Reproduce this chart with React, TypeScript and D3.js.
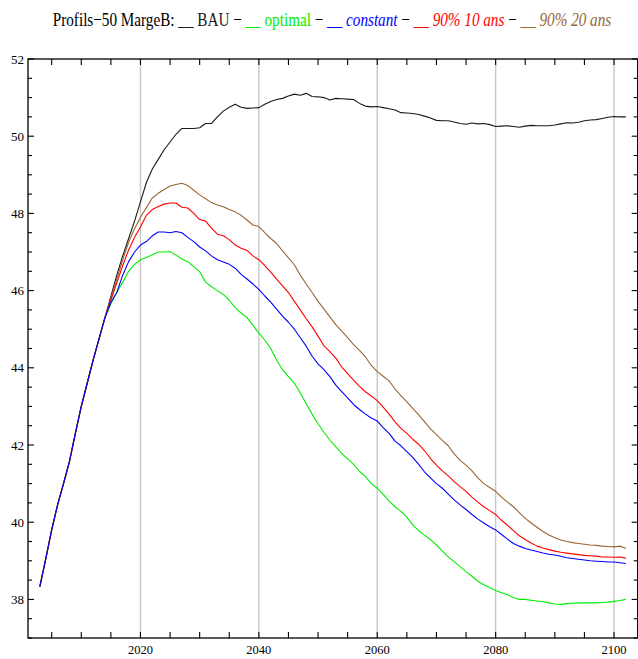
import React from "react";
import * as d3 from "d3";

// ---- Data ----
const commonYears = [2003, 2004, 2005, 2006, 2007, 2008, 2009, 2010, 2011, 2012, 2013, 2014];
const commonValues = [38.33, 39.05, 39.8, 40.45, 41.0, 41.57, 42.3, 43.0, 43.6, 44.2, 44.75, 45.3];

const startYear = 2015; // series below are yearly values 2015..2102

const bau = [
  45.85, 46.4, 46.9, 47.35, 47.8, 48.3, 48.8, 49.15, 49.4, 49.65,
  49.85, 50.05, 50.2, 50.2, 50.2, 50.22, 50.33, 50.33, 50.5, 50.65,
  50.75, 50.83, 50.75, 50.72, 50.73, 50.74, 50.83, 50.9, 50.95, 50.98,
  51.04, 51.09, 51.06, 51.11, 51.03, 51.02, 51.0, 50.94, 50.98, 50.97,
  50.96, 50.95, 50.85, 50.78, 50.76, 50.77, 50.74, 50.71, 50.68, 50.61,
  50.6, 50.59, 50.56, 50.52, 50.47, 50.41, 50.4, 50.4, 50.37, 50.33,
  50.31, 50.34, 50.32, 50.33, 50.3, 50.25, 50.26, 50.27, 50.25, 50.23,
  50.26, 50.28, 50.27, 50.27, 50.27, 50.29, 50.32, 50.35, 50.34, 50.36,
  50.4, 50.42, 50.43, 50.46, 50.49, 50.51, 50.5, 50.5,
];

const optimal = [
  45.65, 45.95, 46.22, 46.5, 46.68, 46.8, 46.86, 46.93, 47.0, 47.0,
  47.01, 46.92, 46.82, 46.75, 46.62, 46.49, 46.22, 46.1, 46.0, 45.9,
  45.75, 45.56, 45.42, 45.3, 45.1, 44.9, 44.72, 44.5, 44.2, 43.95,
  43.77, 43.6, 43.35, 43.07, 42.8, 42.55, 42.33, 42.13, 41.95, 41.78,
  41.64, 41.5, 41.32, 41.18, 41.0, 40.88, 40.72, 40.55, 40.4, 40.28,
  40.13, 39.93, 39.78, 39.66, 39.55, 39.41, 39.25, 39.1, 38.98, 38.85,
  38.72, 38.6, 38.47, 38.38, 38.3, 38.23, 38.17, 38.12, 38.05, 38.0,
  38.0, 37.98, 37.96, 37.94, 37.91, 37.88, 37.87, 37.89, 37.9, 37.91,
  37.91, 37.91, 37.91, 37.92, 37.93, 37.95, 37.97, 38.0,
];

const constant = [
  45.7, 45.95, 46.4, 46.75, 47.0, 47.18, 47.27, 47.42, 47.52, 47.52,
  47.5, 47.53, 47.5, 47.38, 47.27, 47.13, 47.03, 46.9, 46.8, 46.74,
  46.68, 46.58, 46.42, 46.3, 46.17, 46.03, 45.86, 45.7, 45.52, 45.34,
  45.18, 45.0, 44.78, 44.56, 44.3, 44.1, 43.95, 43.77, 43.55, 43.38,
  43.22, 43.05, 42.92, 42.8, 42.7, 42.62, 42.45, 42.3, 42.1, 41.98,
  41.83, 41.68, 41.5, 41.3, 41.15, 41.0, 40.88, 40.73, 40.58, 40.45,
  40.33, 40.2, 40.08, 39.98, 39.88, 39.8, 39.68, 39.56, 39.45, 39.38,
  39.32, 39.28, 39.24, 39.2, 39.17, 39.15, 39.12, 39.08, 39.06, 39.04,
  39.02, 39.0, 38.99, 38.98, 38.97, 38.97, 38.95, 38.93,
];

const p90y10 = [
  45.75, 46.2, 46.65, 47.05, 47.38, 47.65, 47.95, 48.1, 48.18, 48.24,
  48.27, 48.27, 48.16, 48.14, 48.0, 47.84, 47.8, 47.62, 47.46, 47.42,
  47.32, 47.18, 47.1, 47.04, 46.9, 46.8, 46.65, 46.48, 46.3, 46.12,
  45.95, 45.72, 45.5, 45.27, 45.06, 44.82, 44.57, 44.42, 44.25, 44.02,
  43.85, 43.68, 43.52, 43.38, 43.27, 43.15, 42.98, 42.8, 42.6, 42.43,
  42.3, 42.15, 42.02, 41.85, 41.65, 41.48, 41.33, 41.2, 41.05, 40.92,
  40.8, 40.65, 40.52, 40.4, 40.3, 40.2, 40.05, 39.92, 39.78, 39.65,
  39.55, 39.46, 39.38, 39.33, 39.29, 39.25, 39.22, 39.2, 39.18, 39.16,
  39.14, 39.13, 39.12, 39.1, 39.1, 39.09, 39.1, 39.07,
];

const p90y20 = [
  45.8, 46.3, 46.8, 47.25, 47.6, 47.9, 48.15, 48.4, 48.52, 48.62,
  48.71, 48.75, 48.78, 48.72, 48.6, 48.48, 48.38, 48.28, 48.22, 48.17,
  48.1, 48.04, 47.95, 47.83, 47.7, 47.66, 47.5, 47.35, 47.22, 47.03,
  46.85, 46.67, 46.4, 46.17, 45.95, 45.72, 45.52, 45.32, 45.12, 44.95,
  44.78, 44.6, 44.45, 44.28, 44.06, 43.9, 43.78, 43.66, 43.45, 43.28,
  43.12, 42.95, 42.78, 42.6, 42.42, 42.27, 42.12, 41.98, 41.77, 41.6,
  41.48, 41.33, 41.15, 41.0, 40.9, 40.8, 40.65, 40.52, 40.4, 40.25,
  40.1, 39.98, 39.87, 39.76, 39.67, 39.6, 39.54, 39.5, 39.47, 39.45,
  39.43, 39.41, 39.4, 39.38, 39.37, 39.36, 39.38, 39.32,
];

const seriesNames = ["BAU", "optimal", "constant", "90% 10 ans", "90% 20 ans"];
const seriesColors = ["#1a1a1a", "#00ee00", "#0000ff", "#ff0000", "#996633"];
const seriesValues = [bau, optimal, constant, p90y10, p90y20];
const drawOrder = [0, 1, 4, 3, 2];

const xMajorTicks = [2020, 2040, 2060, 2080, 2100];
const yMajorTicks = [38, 40, 42, 44, 46, 48, 50, 52];

const W = 638;
const H = 659;
const FONT = "'Liberation Serif', 'DejaVu Serif', serif";

export default function App() {
  const x = d3.scaleLinear().domain([2001, 2104]).range([28, 637.7]);
  const y = d3.scaleLinear().domain([37, 52]).range([638, 59]);
  const [x0, x1] = x.range();
  const [y0, y1] = [y(37), y(52)];

  const line = d3
    .line<[number, number]>()
    .x((d) => x(d[0]))
    .y((d) => y(d[1]));

  const buildSeries = (vals: number[]): [number, number][] => {
    const pts: [number, number][] = commonYears.map((yr, i) => [yr, commonValues[i]]);
    vals.forEach((v, i) => pts.push([startYear + i, v]));
    return pts;
  };

  const xMinor = d3.range(2005, 2104, 5);
  const yMinor = d3.range(37, 52.01, 0.5);

  return (
    <div style={{ position: "absolute", left: 0, top: 0, background: "#fff" }}>
      <svg width={W} height={H} style={{ display: "block" }}>
        <rect x={0} y={0} width={W} height={H} fill="#fff" />
        {/* gridlines */}
        {xMajorTicks.map((t) => (
          <line key={"g" + t} x1={x(t)} x2={x(t)} y1={y1} y2={y0} stroke="#c8c8c8" strokeWidth={1.4} />
        ))}
        {/* series */}
        {drawOrder.map((i) => (
          <path
            key={seriesNames[i]}
            d={line(buildSeries(seriesValues[i])) || ""}
            fill="none"
            stroke={seriesColors[i]}
            strokeWidth={1.1}
            strokeLinejoin="round"
          />
        ))}
        {/* frame */}
        <rect x={x0} y={y1} width={x1 - x0} height={y0 - y1} fill="none" stroke="#000" strokeWidth={1.3} />
        {/* x ticks bottom & top */}
        {xMinor.map((t) => (
          <g key={"xt" + t}>
            <line x1={x(t)} x2={x(t)} y1={y0} y2={y0 - 6} stroke="#000" strokeWidth={1.1} />
            <line x1={x(t)} x2={x(t)} y1={y1} y2={y1 + 6} stroke="#000" strokeWidth={1.1} />
          </g>
        ))}
        {/* y ticks left & right */}
        {yMinor.map((t) => {
          const major = Math.abs(t / 2 - Math.round(t / 2)) < 1e-6;
          const len = major ? 6 : 4;
          return (
            <g key={"yt" + t}>
              <line x1={x0} x2={x0 + len} y1={y(t)} y2={y(t)} stroke="#000" strokeWidth={1.1} />
              <line x1={x1} x2={x1 - len} y1={y(t)} y2={y(t)} stroke="#000" strokeWidth={1.1} />
            </g>
          );
        })}
        {/* x labels */}
        {xMajorTicks.map((t) => (
          <text key={"xl" + t} x={x(t)} y={654} textAnchor="middle" fontFamily={FONT} fontSize={12.5} fill="#000">
            {t}
          </text>
        ))}
        {/* y labels */}
        {yMajorTicks.map((t) => (
          <text key={"yl" + t} x={24} y={y(t) + 4.5} textAnchor="end" fontFamily={FONT} fontSize={13} fill="#000">
            {t}
          </text>
        ))}
        {/* title (horizontally condensed like the reference) */}
        <g transform="translate(332,26) scale(0.8,1)">
          <text x={0} y={0} textAnchor="middle" fontFamily={FONT} fontSize={19} fill="#000">
            <tspan>Profils−50 MargeB: </tspan>
            <tspan fill={seriesColors[0]}>__ {seriesNames[0]}</tspan>
            <tspan> − </tspan>
            <tspan fill={seriesColors[1]}>__ {seriesNames[1]}</tspan>
            <tspan> − </tspan>
            <tspan fill={seriesColors[2]}>__ </tspan>
            <tspan fill={seriesColors[2]} fontStyle="italic">{seriesNames[2]}</tspan>
            <tspan> − </tspan>
            <tspan fill={seriesColors[3]}>__ </tspan>
            <tspan fill={seriesColors[3]} fontStyle="italic">{seriesNames[3]}</tspan>
            <tspan> − </tspan>
            <tspan fill={seriesColors[4]}>__ </tspan>
            <tspan fill={seriesColors[4]} fontStyle="italic">{seriesNames[4]}</tspan>
          </text>
        </g>
      </svg>
    </div>
  );
}
